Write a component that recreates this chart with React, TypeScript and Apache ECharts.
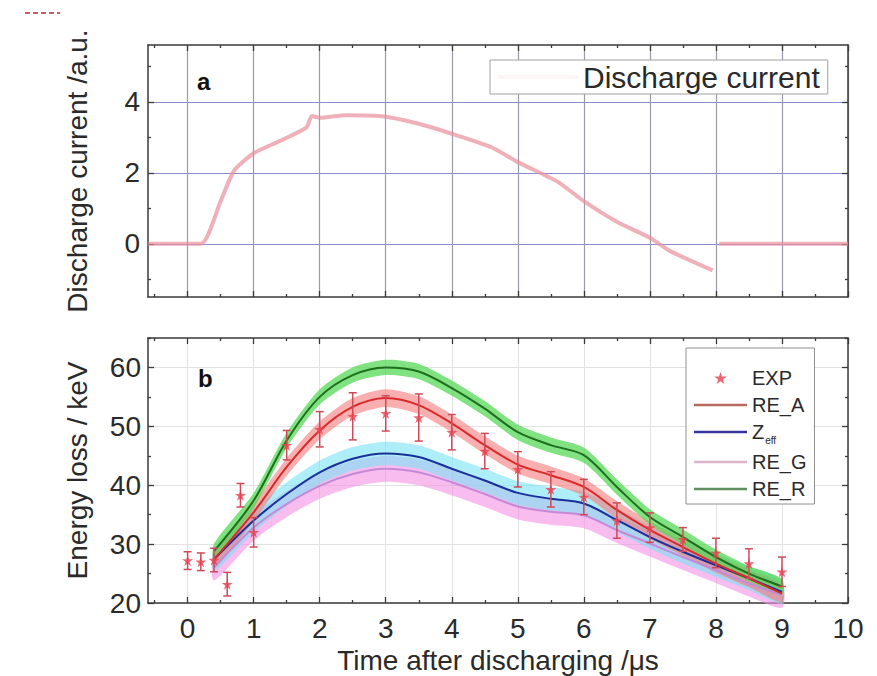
import React, { useEffect, useRef } from "react";
import * as echarts from "echarts";

// ---------- data ----------
const X_TICKS = [0, 1, 2, 3, 4, 5, 6, 7, 8, 9, 10];
const X_MINOR = [-0.5, 0.5, 1.5, 2.5, 3.5, 4.5, 5.5, 6.5, 7.5, 8.5, 9.5];
const Y_TICKS_A = [0, 2, 4];
const Y_MINOR_A = [-1, 1, 3, 5];
const Y_TICKS_B = [20, 30, 40, 50, 60];
const Y_MINOR_B = [25, 35, 45, 55, 65];

// panel a: discharge current
const T_CUR = [-0.6, 0.2, 0.5, 0.7, 1.0, 1.4, 1.8, 1.88, 2.0, 2.4, 3.0, 3.5, 4.0, 4.6, 5.0, 5.6, 6.0, 6.5, 7.0, 7.3, 7.95, 7.98, 8.05, 10];
const I_CUR: (number | string)[] = [0, 0, 1.2, 2.05, 2.55, 2.9, 3.28, 3.6, 3.55, 3.62, 3.58, 3.38, 3.1, 2.72, 2.3, 1.75, 1.2, 0.62, 0.17, -0.2, -0.75, "-", 0, 0];

// panel b: experiment
const T_EXP = [0, 0.2, 0.4, 0.6, 0.8, 1.0, 1.5, 2.0, 2.5, 3.0, 3.5, 4.0, 4.5, 5.0, 5.5, 6.0, 6.5, 7.0, 7.5, 8.0, 8.5, 9.0];
const V_EXP = [27.2, 27.0, 27.3, 23.2, 38.3, 32.0, 46.8, 49.5, 51.7, 52.2, 51.5, 49.0, 45.8, 42.7, 39.3, 38.0, 34.0, 32.8, 30.8, 28.5, 26.7, 25.3];
const E_EXP = [1.5, 1.5, 2, 2, 2, 2.5, 2.5, 3, 4, 3, 4, 3, 3, 3, 3, 3, 3, 2.5, 2, 2.5, 2.5, 2.5];

// panel b: models
const T_MOD = [0.4, 1, 1.5, 2, 2.5, 3, 3.5, 4, 4.5, 5, 5.5, 6, 6.5, 7, 7.5, 8, 8.5, 9];
const RE_R = [28.8, 37.4, 47.6, 55.0, 58.7, 60.0, 59.3, 56.5, 53.0, 49.0, 46.8, 45.1, 39.7, 34.6, 31.2, 27.8, 25.0, 22.8];
const RE_A = [27.4, 35.4, 43.1, 49.3, 53.3, 54.8, 53.6, 50.5, 46.8, 43.5, 41.7, 39.7, 35.8, 32.4, 29.5, 26.7, 24.2, 21.6];
const ZEFF = [27.4, 34.0, 38.5, 42.2, 44.5, 45.4, 44.8, 42.8, 40.8, 38.7, 37.7, 36.9, 34.1, 31.2, 28.7, 26.4, 24.2, 21.9];
const RE_G = [26.0, 32.8, 36.8, 39.9, 41.9, 42.8, 42.2, 40.5, 38.5, 36.4, 35.5, 34.9, 32.4, 30.1, 27.8, 25.6, 23.3, 21.4];
const HALF_R = 1.3;
const HALF_A = 1.5;
const HALF_Z = 2.0;
const HALF_G = 2.2;

const FONT = "'Liberation Sans', Arial, sans-serif";
const AXIS_LINE = { color: "#3a3a3a", width: 1.5 };
const TICK_LINE = { color: "#3a3a3a", width: 1.3 };
const STAR = "path://M50,0 L61,35 L98,35 L68,57 L79,91 L50,70 L21,91 L32,57 L2,35 L39,35 Z";
const LINE_ICON = "path://M0,0 H100 V5 H0 Z";

function xAx(grid: number, pos: string, ticks: number[], len: number, major: boolean, extra: any = {}) {
  return {
    type: "value", gridIndex: grid, position: pos, min: -0.6, max: 10,
    axisLine: { show: major, onZero: false, lineStyle: AXIS_LINE },
    axisTick: { show: true, inside: true, length: len, customValues: ticks, lineStyle: TICK_LINE },
    axisLabel: { show: false },
    splitLine: { show: false },
    ...extra,
  };
}
function yAx(grid: number, pos: string, ticks: number[], len: number, major: boolean, min: number, max: number, extra: any = {}) {
  return {
    type: "value", gridIndex: grid, position: pos, min, max,
    axisLine: { show: major, onZero: false, lineStyle: AXIS_LINE },
    axisTick: { show: true, inside: true, length: len, customValues: ticks, lineStyle: TICK_LINE },
    axisLabel: { show: false },
    splitLine: { show: false },
    ...extra,
  };
}

function bandSeries(key: string, center: number[], half: number, color: string, opacity: number) {
  return {
    type: "custom", name: key, xAxisIndex: 4, yAxisIndex: 4, silent: true, z: 1,
    encode: { x: 0, y: 1 },
    data: T_MOD.map((t, i) => [t, center[i]]),
    renderItem: (params: any, api: any) => {
      if (params.dataIndex !== 0) return null;
      const up = T_MOD.map((t, i) => api.coord([t, center[i] + half]));
      const lo = T_MOD.map((t, i) => api.coord([t, center[i] - half])).reverse();
      return {
        type: "polygon",
        shape: { points: up.concat(lo), smooth: 0.25 },
        style: { fill: color, opacity },
      };
    },
  };
}

function lineSeries(name: string, values: number[], color: string) {
  return {
    type: "line", name, xAxisIndex: 4, yAxisIndex: 4, symbol: "none", smooth: 0.3, z: 3,
    color, lineStyle: { color, width: 2 },
    data: T_MOD.map((t, i) => [t, values[i]]),
  };
}

export default function App() {
  const ref = useRef<HTMLDivElement>(null);
  useEffect(() => {
    if (!ref.current) return;
    const chart = echarts.init(ref.current, null, { renderer: "svg" });
    const tickLabel = { show: true, fontSize: 28, fontFamily: FONT, color: "#2a2a2a" };
    const nameStyle = { fontSize: 28, fontFamily: FONT, color: "#2a2a2a" };
    const errColor = "#cf4a58";
    const option: any = {
      animation: false,
      backgroundColor: "#ffffff",
      grid: [
        { left: 148, right: 29, top: 45, height: 252 },
        { left: 148, right: 29, top: 338, height: 265 },
      ],
      xAxis: [
        xAx(0, "bottom", X_TICKS, 6, true, { splitLine: { show: true, lineStyle: { color: "#9a9aae", width: 1.2 } } }),
        xAx(0, "top", X_TICKS, 6, true),
        xAx(0, "bottom", X_MINOR, 3, false),
        xAx(0, "top", X_MINOR, 3, false),
        xAx(1, "bottom", X_TICKS, 6, true, {
          splitLine: { show: true, lineStyle: { color: "#e2e2e2", width: 1 } },
          axisLabel: { ...tickLabel, customValues: X_TICKS, margin: 11 },
          name: "Time after discharging /\u03bcs", nameLocation: "middle", nameGap: 43, nameTextStyle: nameStyle,
        }),
        xAx(1, "top", X_TICKS, 6, true),
        xAx(1, "bottom", X_MINOR, 3, false),
        xAx(1, "top", X_MINOR, 3, false),
      ],
      yAxis: [
        yAx(0, "left", Y_TICKS_A, 6, true, -1.5, 5.6, {
          splitLine: { show: true, lineStyle: { color: "#8c8ad2", width: 1.2 } },
          axisLabel: { ...tickLabel, customValues: Y_TICKS_A, margin: 8 },
          name: "Discharge current /a.u.", nameLocation: "middle", nameGap: 57, nameTextStyle: nameStyle,
        }),
        yAx(0, "right", Y_TICKS_A, 6, true, -1.5, 5.6),
        yAx(0, "left", Y_MINOR_A, 3, false, -1.5, 5.6),
        yAx(0, "right", Y_MINOR_A, 3, false, -1.5, 5.6),
        yAx(1, "left", Y_TICKS_B, 6, true, 20, 65, {
          splitLine: { show: true, lineStyle: { color: "#e2e2e2", width: 1 } },
          axisLabel: { ...tickLabel, customValues: Y_TICKS_B, margin: 7 },
          name: "Energy loss / keV", nameLocation: "middle", nameGap: 57, nameTextStyle: nameStyle,
        }),
        yAx(1, "right", Y_TICKS_B, 6, true, 20, 65),
        yAx(1, "left", Y_MINOR_B, 3, false, 20, 65),
        yAx(1, "right", Y_MINOR_B, 3, false, 20, 65),
      ],
      legend: [
        {
          data: [{ name: "Discharge current", icon: LINE_ICON, itemStyle: { opacity: 0.08 } }],
          left: 490, top: 60, itemWidth: 80, itemHeight: 14, padding: [2, 8, 2, 8],
          borderColor: "#a0a0a0", borderWidth: 1, backgroundColor: "#ffffff",
          selectedMode: false,
          textStyle: { fontSize: 30, fontFamily: FONT, color: "#2a2a2a" },
        },
        {
          data: [
            { name: "EXP", icon: STAR },
            { name: "RE_A", icon: LINE_ICON, itemStyle: { color: "#b86a5e" } },
            { name: "Zeff", icon: LINE_ICON, itemStyle: { color: "#34349a" } },
            { name: "RE_G", icon: LINE_ICON, itemStyle: { color: "#dcb4cc" } },
            { name: "RE_R", icon: LINE_ICON, itemStyle: { color: "#5f8f5f" } },
          ],
          orient: "vertical", left: 686, top: 348, itemWidth: 53, itemHeight: 12, itemGap: 7,
          padding: [20, 8, 5, 8], borderColor: "#909090", borderWidth: 1, backgroundColor: "#ffffff",
          selectedMode: false,
          formatter: (n: string) => (n === "Zeff" ? "{z|Z}{s|eff}" : n),
          textStyle: {
            fontSize: 20, fontFamily: FONT, color: "#2a2a2a",
            rich: {
              z: { fontSize: 20, fontFamily: FONT, color: "#2a2a2a" },
              s: { fontSize: 10, fontFamily: FONT, color: "#2a2a2a", padding: [16, 0, 0, 1] },
            },
          },
        },
      ],
      graphic: [
        { type: "text", left: 197, top: 69, style: { text: "a", font: `bold 24px ${FONT}`, fill: "#111" } },
        { type: "text", left: 198, top: 366, style: { text: "b", font: `bold 24px ${FONT}`, fill: "#111" } },
        { type: "line", shape: { x1: 25, y1: 13, x2: 60, y2: 13 }, style: { stroke: "#c85a6a", lineWidth: 2, lineDash: [5, 3] } },
      ],
      series: [
        {
          type: "line", name: "Discharge current", xAxisIndex: 0, yAxisIndex: 0, symbol: "none", smooth: 0.2,
          color: "#ea8e9c", lineStyle: { color: "#ea8e9c", width: 4, opacity: 0.7 },
          data: T_CUR.map((t, i) => [t, I_CUR[i]]),
          z: 3,
        },
        bandSeries("bandG", RE_G, HALF_G, "#f590e4", 0.6),
        bandSeries("bandZ", ZEFF, HALF_Z, "#78e2f4", 0.6),
        bandSeries("bandA", RE_A, HALF_A, "#f57a7a", 0.6),
        bandSeries("bandR", RE_R, HALF_R, "#56d856", 0.75),
        lineSeries("RE_G", RE_G, "#c48ad6"),
        lineSeries("Zeff", ZEFF, "#1b2f9a"),
        lineSeries("RE_A", RE_A, "#d82a2a"),
        lineSeries("RE_R", RE_R, "#1d6e1d"),
        {
          type: "custom", name: "EXP_err", xAxisIndex: 4, yAxisIndex: 4, z: 4, silent: true,
          encode: { x: 0, y: 1 },
          data: T_EXP.map((t, i) => [t, V_EXP[i], E_EXP[i]]),
          renderItem: (_p: any, api: any) => {
            const x = api.value(0), y = api.value(1), e = api.value(2);
            const a = api.coord([x, y + e]);
            const b = api.coord([x, y - e]);
            const w = 4;
            const st = { stroke: errColor, lineWidth: 1.5 };
            return {
              type: "group",
              children: [
                { type: "line", shape: { x1: a[0], y1: a[1], x2: b[0], y2: b[1] }, style: st },
                { type: "line", shape: { x1: a[0] - w, y1: a[1], x2: a[0] + w, y2: a[1] }, style: st },
                { type: "line", shape: { x1: b[0] - w, y1: b[1], x2: b[0] + w, y2: b[1] }, style: st },
              ],
            };
          },
        },
        {
          type: "scatter", name: "EXP", xAxisIndex: 4, yAxisIndex: 4, z: 5,
          symbol: STAR, symbolSize: 11, color: "#e8414f",
          data: T_EXP.map((t, i) => [t, V_EXP[i]]),
        },
      ],
    };
    chart.setOption(option);
    return () => chart.dispose();
  }, []);
  return <div ref={ref} style={{ position: "fixed", left: 0, top: 0, width: 877, height: 676 }} />;
}
